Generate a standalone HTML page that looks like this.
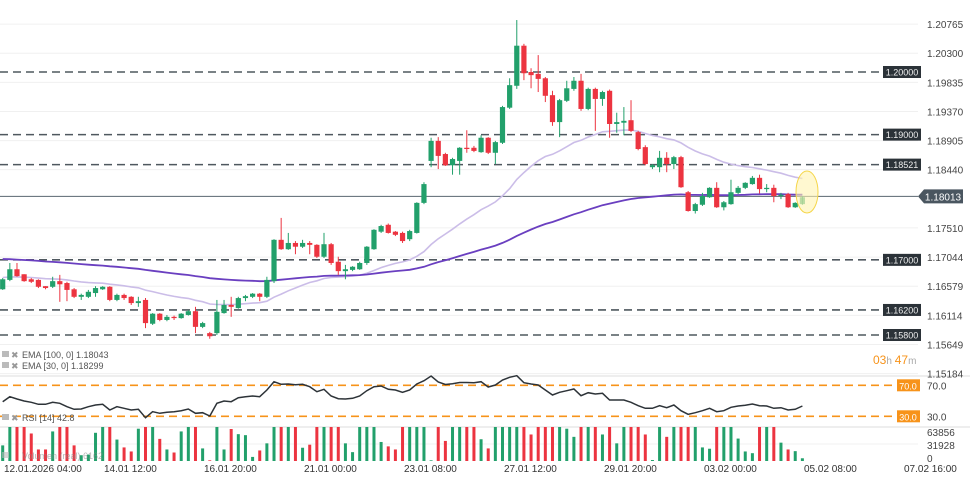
<!DOCTYPE html>
<html><head><meta charset="utf-8">
<style>
html,body{margin:0;padding:0;background:#fff;}
svg{display:block;font-family:"Liberation Sans",sans-serif;}
</style></head>
<body>
<svg id="chart" width="970" height="478" viewBox="0 0 970 478" xmlns="http://www.w3.org/2000/svg">
<g id="grid"></g>
<g id="levels"></g>
<g id="ema"></g>
<g id="candles"></g>
<g id="rsi"></g>
<g id="vol"></g>
<g id="axes"></g>
<g font-size="9" fill="#555">
<rect x="2" y="351" width="7" height="6" fill="#bbb"/><text x="11" y="358" fill="#999">✖</text><text x="22" y="358">EMA [100, 0] 1.18043</text>
<rect x="2" y="362" width="7" height="6" fill="#bbb"/><text x="11" y="369" fill="#999">✖</text><text x="22" y="369">EMA [30, 0] 1.18299</text>
<rect x="2" y="414" width="7" height="6" fill="#bbb"/><text x="11" y="421" fill="#999">✖</text><text x="22" y="421">RSI [14] 42.8</text>
<rect x="2" y="452" width="7" height="6" fill="#bbb" opacity="0.6"/><text x="22" y="459" fill="#888" opacity="0.6">Volumen (real) 6162</text>
</g>
<text x="873" y="364" font-size="12" fill="#f7931a">03<tspan fill="#aaa" font-size="10">h </tspan>47<tspan fill="#aaa" font-size="10">m</tspan></text>
<ellipse cx="807" cy="192" rx="11" ry="21" fill="#fff3b0" fill-opacity="0.6" stroke="#f5d64a" stroke-width="1"/>
</svg>
<script>
const opens=[1.1653,1.1668,1.1685,1.1677,1.1669,1.1668,1.1658,1.1657,1.1666,1.1663,1.1653,1.1641,1.1641,1.1647,1.1653,1.1657,1.1636,1.1644,1.1641,1.1631,1.1636,1.1598,1.1614,1.1604,1.1609,1.1607,1.1612,1.1618,1.1593,1.1583,1.1583,1.1615,1.1628,1.1623,1.1639,1.1641,1.1646,1.1641,1.1666,1.1732,1.1717,1.1727,1.1721,1.1727,1.1724,1.1705,1.1725,1.1697,1.1682,1.1684,1.1685,1.1695,1.1717,1.1745,1.1756,1.1745,1.1743,1.1733,1.1743,1.1791,1.1858,1.1890,1.1869,1.1851,1.1858,1.1879,1.1879,1.1872,1.1895,1.1871,1.1887,1.1943,1.1978,1.2042,1.2000,1.1997,1.1990,1.1963,1.1920,1.1954,1.1973,1.1986,1.1941,1.1973,1.1957,1.1970,1.1917,1.1919,1.1923,1.1904,1.1880,1.1848,1.1848,1.1863,1.1853,1.1864,1.1808,1.1778,1.1788,1.1800,1.1815,1.1784,1.1789,1.1807,1.1815,1.1821,1.1831,1.1813,1.1815,1.1802,1.1805,1.1784,1.1789];
const closes=[1.1669,1.1685,1.1674,1.1666,1.1665,1.1657,1.1655,1.1666,1.1661,1.1652,1.1641,1.1644,1.1649,1.1655,1.1657,1.1636,1.1644,1.1639,1.1631,1.1634,1.1599,1.1614,1.1604,1.1609,1.1607,1.1614,1.1618,1.1593,1.1599,1.1578,1.1617,1.1628,1.1625,1.1639,1.1642,1.1646,1.1641,1.1668,1.1732,1.1717,1.1727,1.1721,1.1727,1.1724,1.1705,1.1725,1.1695,1.1682,1.1685,1.1689,1.1695,1.1721,1.1748,1.1754,1.1743,1.1740,1.1730,1.1746,1.1791,1.1821,1.1890,1.1866,1.1851,1.1861,1.1879,1.1877,1.1874,1.1895,1.1871,1.1888,1.1944,1.1979,1.2042,1.1998,1.1995,1.1989,1.1962,1.1920,1.1955,1.1974,1.1986,1.1941,1.1973,1.1957,1.1968,1.1917,1.1920,1.1922,1.1906,1.1877,1.1853,1.1851,1.1863,1.1853,1.1864,1.1816,1.1778,1.1789,1.1802,1.1815,1.1784,1.1792,1.1808,1.1815,1.1823,1.1831,1.1813,1.1815,1.1802,1.1804,1.1784,1.1791,1.1800];
const highs=[1.1671,1.1695,1.1695,1.1677,1.1671,1.1669,1.1658,1.1673,1.1676,1.1665,1.1655,1.1646,1.1652,1.1658,1.1658,1.1658,1.1646,1.1646,1.1642,1.1641,1.1639,1.1615,1.1615,1.1612,1.1611,1.1615,1.1620,1.1625,1.1601,1.1585,1.1636,1.1636,1.1641,1.1641,1.1644,1.1647,1.1647,1.1673,1.1733,1.1767,1.1743,1.1730,1.1732,1.1730,1.1725,1.1743,1.1727,1.1705,1.1692,1.1690,1.1697,1.1722,1.1749,1.1756,1.1758,1.1746,1.1745,1.1748,1.1792,1.1824,1.1895,1.1896,1.1871,1.1863,1.1880,1.1907,1.1882,1.1899,1.1896,1.1890,1.1946,1.1990,1.2083,1.2045,1.2006,1.2027,1.1992,1.1970,1.1957,1.1986,1.1992,1.1997,1.1975,1.1975,1.1970,1.1972,1.1935,1.1944,1.1955,1.1906,1.1883,1.1853,1.1874,1.1872,1.1866,1.1866,1.1810,1.1791,1.1807,1.1816,1.1824,1.1794,1.1828,1.1818,1.1824,1.1834,1.1836,1.1821,1.1820,1.1807,1.1807,1.1792,1.1802];
const lows=[1.1652,1.1666,1.1673,1.1665,1.1663,1.1655,1.1653,1.1655,1.1633,1.1634,1.1639,1.1636,1.1639,1.1641,1.1652,1.1634,1.1634,1.1636,1.1628,1.1625,1.1591,1.1596,1.1602,1.1602,1.1604,1.1606,1.1611,1.1583,1.1591,1.1574,1.1580,1.1614,1.1609,1.1622,1.1634,1.1639,1.1634,1.1639,1.1663,1.1716,1.1716,1.1709,1.1719,1.1709,1.1703,1.1703,1.1692,1.1676,1.1669,1.1682,1.1684,1.1692,1.1716,1.1743,1.1742,1.1738,1.1727,1.1730,1.1742,1.1789,1.1848,1.1845,1.1850,1.1836,1.1836,1.1871,1.1872,1.1871,1.1869,1.1853,1.1885,1.1941,1.1973,1.1987,1.1974,1.1968,1.1952,1.1914,1.1896,1.1952,1.1970,1.1938,1.1939,1.1906,1.1946,1.1895,1.1903,1.1899,1.1904,1.1875,1.1851,1.1845,1.1840,1.1840,1.1845,1.1815,1.1777,1.1774,1.1786,1.1799,1.1783,1.1779,1.1788,1.1805,1.1813,1.1820,1.1806,1.1808,1.1792,1.1797,1.1783,1.1783,1.1788];
const rsiValues=[48.8,55.3,52.3,49.7,48.1,45.5,45.5,48.1,46.8,42.4,39.0,39.4,42.4,44.6,45.5,38.1,42.4,40.3,38.1,39.0,28.2,35.9,33.9,35.2,35.9,37.2,39.4,33.9,34.6,30.4,46.8,49.7,48.8,54.0,55.3,56.2,55.3,63.9,74.6,71.3,71.7,70.8,71.3,68.2,61.7,64.8,56.2,52.7,52.3,53.2,56.2,63.0,68.2,69.1,64.8,63.9,61.0,63.9,71.7,75.9,82.0,74.2,71.0,72.1,73.6,73.6,73.3,74.6,67.8,70.4,76.8,80.3,82.4,73.3,71.7,70.4,63.9,57.5,61.0,63.0,65.2,56.6,60.4,58.8,59.7,51.0,51.0,51.0,48.1,43.7,40.3,40.3,43.7,41.1,44.6,37.2,32.6,34.6,37.2,40.3,35.9,37.2,41.6,43.3,44.2,45.9,43.7,43.3,40.3,41.1,38.1,39.0,43.3];
const volumes=[34400,76000,76000,76000,60600,25400,25400,65100,76000,76000,34400,12700,14200,62100,76000,76000,47200,29900,21000,71100,76000,76000,48700,25400,18700,65100,76000,76000,27700,1500,76000,25400,70400,59100,56900,9000,23200,38900,76000,76000,76000,76000,29200,35900,76000,76000,76000,76000,38900,19500,76000,76000,76000,41900,32200,25400,76000,76000,76000,76000,1500,76000,44200,76000,76000,76000,76000,47900,27700,76000,76000,76000,76000,76000,58400,76000,76000,76000,76000,71100,53200,76000,76000,76000,58400,76000,38900,76000,76000,76000,58400,2200,76000,53200,76000,76000,76000,76000,29900,27000,76000,76000,76000,49400,21000,17200,76000,76000,76000,40400,25400,21700,6000];
const ema100Seed=1.1702, ema30Seed=1.1672;
const priceTicks=[1.20765,1.20300,1.19835,1.19370,1.18905,1.18440,1.17510,1.17044,1.16579,1.16114,1.15649,1.15184];
const levelValues=[1.2000,1.1900,1.18521,1.1700,1.1620,1.1580];
const levelLabels=["1.20000","1.19000","1.18521","1.17000","1.16200","1.15800"];
const currentPrice=1.18013;
const timeLabels=["12.01.2026  04:00","14.01  12:00","16.01  20:00","21.01  00:00","23.01  08:00","27.01  12:00","29.01  20:00","03.02  00:00","05.02  08:00","07.02  16:00"];
const volTicks=["63856","31928","0"];

const NS="http://www.w3.org/2000/svg";
function el(tag,attrs,parent,txt){const e=document.createElementNS(NS,tag);for(const k in attrs)e.setAttribute(k,attrs[k]);if(txt!==undefined)e.textContent=txt;parent.appendChild(e);return e;}
const X=i=>2.7+7.14*i;
const Y=p=>72+(1.2-p)*6262;
const RY=r=>416.3-(r-30)*0.775;
const VY=v=>Math.max(427,461-v/63856*29);
const G="#22a06b",R="#ec3440";

const grid=document.getElementById('grid');
const axes=document.getElementById('axes');
priceTicks.forEach(t=>{
  const y=Y(t);
  const l=el('line',{x1:0,x2:918,y1:y,y2:y,stroke:'#f0f0f0','stroke-width':1},grid);
  
  
  const tx=el('text',{x:927,y:y+4,'font-size':10,fill:'#444'},axes,t.toFixed(5));
  
  
});
// separators
[376,427].forEach(y=>{const s=el('line',{x1:0,x2:970,y1:y,y2:y,stroke:'#ddd','stroke-width':1},grid);

});
el('line',{x1:0,x2:918,y1:444,y2:444,stroke:'#f2f2f2'},grid);

const lv=document.getElementById('levels');
levelValues.forEach((v,i)=>{
  const y=Y(v);
  const l=el('line',{x1:0,x2:882,y1:y,y2:y,stroke:'#4f585f','stroke-width':1.6,'stroke-dasharray':'8,5'},lv);
  
  
  el('rect',{x:883,y:y-6,width:38,height:12,fill:'#2b3238'},lv);
  const t=el('text',{x:902,y:y+3.5,'font-size':9,fill:'#eee','text-anchor':'middle'},lv,levelLabels[i]);
  
  
});
const cy=Y(currentPrice);
el('line',{x1:0,x2:918,y1:cy,y2:cy,stroke:'#5a6670','stroke-width':1},lv);
el('path',{d:`M918,${cy} L924,${cy-7} L963,${cy-7} L963,${cy+7} L924,${cy+7} Z`,fill:'#4a5660'},lv);
const cpl=el('text',{x:943,y:cy+4,'font-size':10,fill:'#fff','text-anchor':'middle'},lv,currentPrice.toFixed(5));



// EMAs
const emaG=document.getElementById('ema');
function emaPts(seed,n){const a=2/(n+1);let e=seed;return closes.map((c,i)=>{e=e+a*(c-e);return X(i).toFixed(1)+','+Y(e).toFixed(1);}).join(' ');}
const e30=el('polyline',{points:emaPts(ema30Seed,30),fill:'none',stroke:'#cbbde8','stroke-width':1.6},emaG);


const e100=el('polyline',{points:emaPts(ema100Seed,100),fill:'none',stroke:'#6a3fc0','stroke-width':1.8},emaG);



// candles
const cg=document.getElementById('candles');
opens.forEach((o,i)=>{
  const c=closes[i],x=X(i),col=c>=o?G:R;
  const g=el('g',{},cg);
  
  
  el('line',{x1:x,x2:x,y1:Y(highs[i]),y2:Y(lows[i]),stroke:col,'stroke-width':1},g);
  const top=Y(Math.max(o,c)),bot=Y(Math.min(o,c));
  el('rect',{x:x-2.6,y:top,width:5.2,height:Math.max(1.2,bot-top),fill:col,opacity:i===opens.length-1?0.75:1},g);
});

// RSI
const rg=document.getElementById('rsi');
[70,30].forEach(v=>{
  const y=RY(v);
  el('line',{x1:0,x2:896,y1:y,y2:y,stroke:'#f7931a','stroke-width':1.6,'stroke-dasharray':'8,5'},rg);
  el('rect',{x:897,y:y-6,width:23,height:12,fill:'#f7931a'},rg);
  el('text',{x:908,y:y+4,'font-size':9,fill:'#fff','text-anchor':'middle'},rg,v.toFixed(1));
  el('text',{x:927,y:y+4,'font-size':10,fill:'#444'},rg,v.toFixed(1));
});
const rl=el('polyline',{points:rsiValues.map((r,i)=>X(i).toFixed(1)+','+RY(r).toFixed(1)).join(' '),fill:'none',stroke:'#2d3338','stroke-width':1.5},rg);



// volume
const vg=document.getElementById('vol');
volumes.forEach((v,i)=>{
  const col=closes[i]>=opens[i]?G:R,y=VY(v);
  const b=el('rect',{x:X(i)-1.5,y:y,width:3,height:461-y,fill:col},vg);
  
  
});
volTicks.forEach((t,i)=>{el('text',{x:927,y:436+i*13,'font-size':10,fill:'#444'},vg,t);});

// time axis
timeLabels.forEach((t,i)=>{
  const tx=el('text',{x:4+i*100,y:472,'font-size':10,fill:'#333','xml:space':'preserve'},axes,t);
  
  
});
</script>
</body></html>
